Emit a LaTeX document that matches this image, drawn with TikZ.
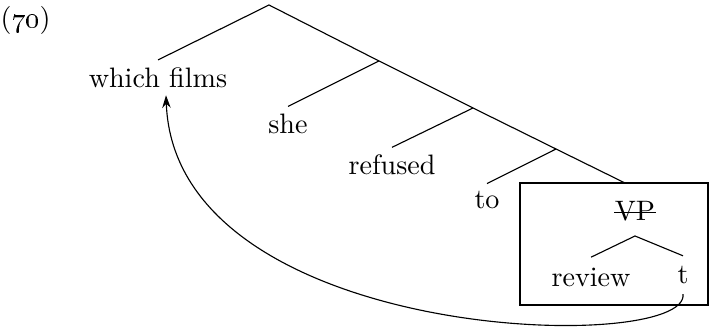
\documentclass[tikz,border=0pt]{standalone}
\usetikzlibrary{arrows.meta}
\begin{document}
\begin{tikzpicture}[every node/.style={inner sep=2.5pt}, leaf/.style={inner sep=3.5pt}]
	\useasboundingbox (0,0) rectangle (8.8625,-4.1375);
	% Example number
	\node (ex) at (0.32,-0.25) {(\oldstylenums{70})};

	% Branching points
	\coordinate (root) at (3.3625,-0.0625);   % Top
	\coordinate (b1) at (4.7375,-0.7625);     % Above she
	\coordinate (b2) at (5.9125,-1.35);       % Above refused
	\coordinate (b3) at (6.95,-1.8625);       % Above to
	\coordinate (vptop) at (7.8125,-2.2875);  % Top of box

	% Words
	\node (wf) at (1.975,-0.97) {which films};
	\node (she) at (3.6,-1.55) {she};
	\node (ref) at (4.9,-2.0625) {refused};
	\node (to) at (6.0875,-2.5) {to};

	% Box with the VP
	\node[draw, minimum width=2.35cm, minimum height=1.525cm, inner sep=0pt] (box) at (7.675,-3.05) {};
	\node[inner sep=0pt] (vp) at (7.9375,-2.6375) {VP};
	\coordinate (vpr) at (7.9375,-2.95);
	\node[leaf] (rev) at (7.3875,-3.4625) {review};
	\node[leaf] (t) at (8.5375,-3.4375) {t};

	% Edges
	\draw (wf.north) -- (root);
	\draw (root) -- (b1) -- (b2) -- (b3) -- (vptop);
	\draw (she.north) -- (b1);
	\draw (ref.north) -- (b2);
	\draw (to.north) -- (b3);
	\draw (rev.north) -- (vpr) -- (t.north);
	\draw ([yshift=-0.5pt]vp.west) -- ([yshift=-0.5pt]vp.east);

	% Movement
	\draw[-{Stealth[length=4.5pt,width=3pt]}] (t.south) .. controls (8.625,-4.4375) and (2.1875,-4.3125) .. ([xshift=0.1cm]wf.south);
\end{tikzpicture}
\end{document}
